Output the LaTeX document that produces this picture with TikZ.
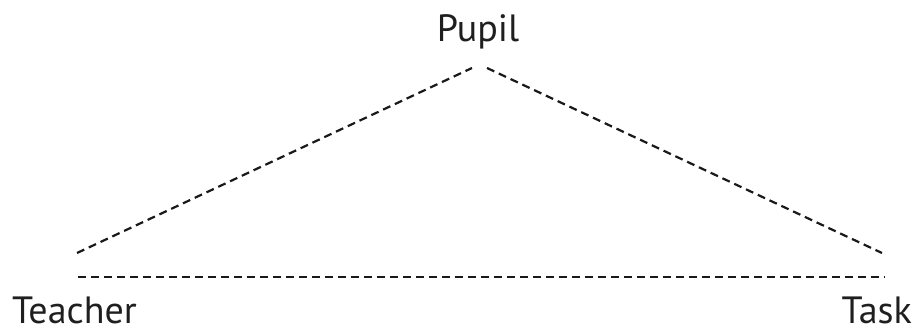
\documentclass[tikz,border=0pt]{standalone}
\usepackage{fontspec}
\setmainfont{PT Sans}
\begin{document}
\begin{tikzpicture}[x=1pt,y=1pt,
  lbl/.style={inner sep=0pt,font=\fontsize{38}{42}\selectfont,text=black!88},
  dline/.style={line width=2.2pt,dash pattern=on 8pt off 5pt,black!90}]
\useasboundingbox (0,0) rectangle (917,329);
\node[lbl,anchor=base] (pupil) at (478,287) {Pupil};
\node[lbl,anchor=base west] (teacher) at (12,6) {Teacher};
\node[lbl,anchor=base east] (task) at (912,6) {Task};
\coordinate (pl) at (472,261);
\coordinate (pr) at (487,261);
\coordinate (tl) at (77,76);
\coordinate (tr) at (882,76);
\coordinate (hl) at (78,52);
\coordinate (hr) at (885,52);
\draw[dline] (tl) -- (pl);
\draw[dline] (pr) -- (tr);
\draw[dline] (hl) -- (hr);
\end{tikzpicture}
\end{document}
